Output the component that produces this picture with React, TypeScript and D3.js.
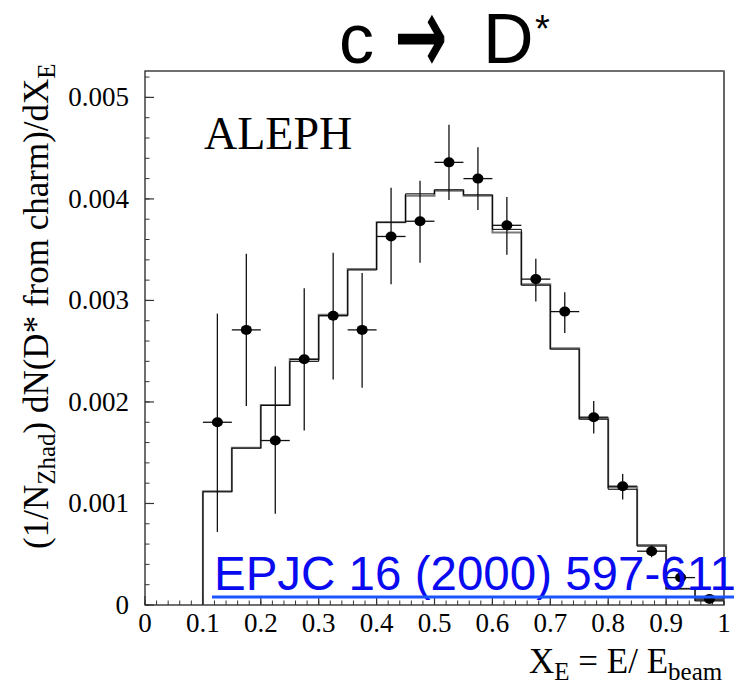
import React from "react";
import * as d3 from "d3";

const binStarts = [0.1, 0.15, 0.2, 0.25, 0.3, 0.35, 0.4, 0.45, 0.5, 0.55, 0.6, 0.65, 0.7, 0.75, 0.8, 0.85, 0.9, 0.95];
const binWidth = 0.05;
// MC histograms (units of 1e-3)
const histBlack = [1.115, 1.545, 1.966, 2.4, 2.85, 3.3, 3.77, 4.05, 4.09, 4.04, 3.7, 3.15, 2.52, 1.83, 1.14, 0.58, 0.16, 0.04];
const histGrey = [1.12, 1.55, 1.97, 2.42, 2.86, 3.31, 3.77, 4.03, 4.08, 4.03, 3.67, 3.16, 2.53, 1.84, 1.16, 0.59, 0.16, 0.05];
// Data points (units of 1e-3)
const dataX = [0.125, 0.175, 0.225, 0.275, 0.325, 0.375, 0.425, 0.475, 0.525, 0.575, 0.625, 0.675, 0.725, 0.775, 0.825, 0.875, 0.925, 0.975];
const dataY = [1.8, 2.71, 1.62, 2.42, 2.85, 2.71, 3.63, 3.78, 4.36, 4.2, 3.74, 3.21, 2.89, 1.85, 1.17, 0.53, 0.27, 0.06];
const errUp = [1.07, 0.75, 0.73, 0.7, 0.62, 0.56, 0.48, 0.4, 0.37, 0.31, 0.28, 0.2, 0.19, 0.16, 0.12, 0.06, 0.03, 0.02];
const errDown = [1.08, 0.75, 0.72, 0.7, 0.63, 0.57, 0.47, 0.41, 0.37, 0.31, 0.29, 0.22, 0.21, 0.16, 0.13, 0.06, 0.03, 0.02];
const xTicks = [0, 0.1, 0.2, 0.3, 0.4, 0.5, 0.6, 0.7, 0.8, 0.9, 1];
const xTickLabels = ["0", "0.1", "0.2", "0.3", "0.4", "0.5", "0.6", "0.7", "0.8", "0.9", "1"];
const yTicks = [0, 0.001, 0.002, 0.003, 0.004, 0.005];
const yTickLabels = ["0", "0.001", "0.002", "0.003", "0.004", "0.005"];

const W = 734;
const H = 681;
const L = 145, R = 724, T = 71, B = 605;
const serif = "'Liberation Serif', 'Times New Roman', serif";
const sans = "'Liberation Sans', Arial, sans-serif";

export default function App() {
  const x = d3.scaleLinear().domain([0, 1]).range([L, R]);
  const y = d3.scaleLinear().domain([0, 0.00526]).range([B, T]);

  const histPath = (vals: number[]) => {
    const pts: [number, number][] = [[binStarts[0], 0]];
    vals.forEach((v, i) => {
      pts.push([binStarts[i], v * 1e-3]);
      pts.push([binStarts[i] + binWidth, v * 1e-3]);
    });
    pts.push([binStarts[binStarts.length - 1] + binWidth, 0]);
    return d3.line<[number, number]>().x((d) => x(d[0])).y((d) => y(d[1]))(pts) || "";
  };

  const xMinor = d3.range(0, 1.0001, 0.02);
  const yMinor = d3.range(0, 0.00521, 0.0002);

  return (
    <svg width={W} height={H} style={{ position: "absolute", left: 0, top: 0, background: "#fff" }}>
      <rect x={0} y={0} width={W} height={H} fill="#fff" />
      {/* title */}
      <text y={63} fontFamily={sans} fontSize={70} fill="#000">
        <tspan x={339}>c</tspan>
        <tspan x={483}>D</tspan>
        <tspan x={535} y={42} fontSize={38}>*</tspan>
      </text>
      <text transform="translate(395,73) scale(1,1.75)" fontFamily="'DejaVu Sans', sans-serif" fontSize={62} fill="#000" stroke="#000" strokeWidth={1}>→</text>
      {/* frame */}
      <rect x={L} y={T} width={R - L} height={B - T} fill="none" stroke="#222" strokeWidth={1.3} />
      <line x1={R} x2={R} y1={T} y2={B} stroke="#666" strokeWidth={2} />
      {/* y ticks */}
      {yMinor.map((v, i) => (
        <line key={"ym" + i} x1={L} x2={L + 4.5} y1={y(v)} y2={y(v)} stroke="#333" strokeWidth={1} />
      ))}
      {yTicks.map((v, i) => (
        <g key={"yt" + i}>
          <line x1={L} x2={L + 9} y1={y(v)} y2={y(v)} stroke="#333" strokeWidth={1.2} />
          <text x={129} y={y(v) + 9} textAnchor="end" fontFamily={serif} fontSize={27} fill="#000">
            {yTickLabels[i]}
          </text>
        </g>
      ))}
      {/* x ticks */}
      {xMinor.map((v, i) => (
        <line key={"xm" + i} x1={x(v)} x2={x(v)} y1={B} y2={B - 4.5} stroke="#333" strokeWidth={1} />
      ))}
      {xTicks.map((v, i) => (
        <g key={"xt" + i}>
          <line x1={x(v)} x2={x(v)} y1={B} y2={B - 9} stroke="#333" strokeWidth={1.2} />
          <text x={x(v)} y={632} textAnchor="middle" fontFamily={serif} fontSize={27} fill="#000">
            {xTickLabels[i]}
          </text>
        </g>
      ))}
      {/* histograms */}
      <path d={histPath(histGrey)} fill="none" stroke="#7a7a7a" strokeWidth={2} />
      <path d={histPath(histBlack)} fill="none" stroke="#000" strokeWidth={1} />
      {/* data points */}
      {dataX.map((dx, i) => (
        <g key={"p" + i}>
          <line x1={x(dx - 0.025)} x2={x(dx + 0.025)} y1={y(dataY[i] * 1e-3)} y2={y(dataY[i] * 1e-3)} stroke="#111" strokeWidth={1.3} />
          <line x1={x(dx)} x2={x(dx)} y1={y((dataY[i] + errUp[i]) * 1e-3)} y2={y((dataY[i] - errDown[i]) * 1e-3)} stroke="#111" strokeWidth={1.3} />
          <ellipse cx={x(dx)} cy={y(dataY[i] * 1e-3)} rx={5.5} ry={5} fill="#000" />
        </g>
      ))}
      {/* ALEPH */}
      <text x={204} y={149} fontFamily={serif} fontSize={46} fill="#000">ALEPH</text>
      {/* y label */}
      <text transform="translate(48,549) rotate(-90)" fontFamily={serif} fontSize={35} fill="#000">
        (1/N<tspan fontSize={25} dy={7}>Zhad</tspan><tspan dy={-7}>) dN(D* from charm)/dX</tspan><tspan fontSize={25} dy={7}>E</tspan>
      </text>
      {/* x label */}
      <text x={529} y={673} fontFamily={serif} fontSize={35} fill="#000">
        X<tspan fontSize={25} dy={7}>E</tspan><tspan dy={-7}> = E/ E</tspan><tspan fontSize={25} dy={7}>beam</tspan>
      </text>
      {/* link */}
      <text x={214} y={590} fontFamily={sans} fontSize={47.5} fill="#0a0af0">EPJC 16 (2000) 597-611</text>
      <line x1={212} x2={734} y1={597} y2={597} stroke="#1a55ff" strokeWidth={3} />
    </svg>
  );
}
